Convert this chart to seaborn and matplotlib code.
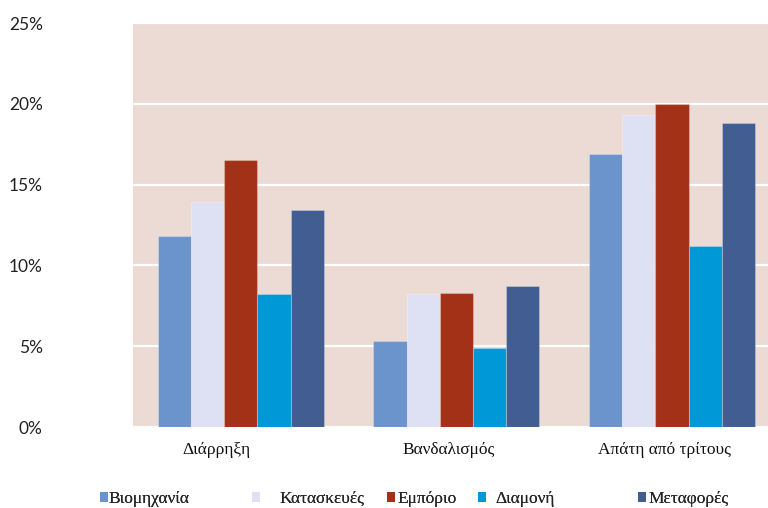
import matplotlib
matplotlib.use("Agg")
import matplotlib.pyplot as plt
import matplotlib.transforms as mtransforms
from matplotlib.patches import Patch
import seaborn as sns
import pandas as pd

categories = ["Διάρρηξη", "Βανδαλισμός", "Απάτη από τρίτους"]
sectors = ["Βιομηχανία", "Κατασκευές", "Εμπόριο", "Διαμονή", "Μεταφορές"]
industry = [11.8, 5.3, 16.9]
construction = [13.9, 8.2, 19.3]
commerce = [16.5, 8.3, 20.0]
accommodation = [8.2, 4.9, 11.2]
transport = [13.4, 8.7, 18.8]
yticks = [0, 5, 10, 15, 20, 25]

colors = ["#6B94CD", "#DDE1F3", "#A33118", "#0098D7", "#415D91"]

series = [industry, construction, commerce, accommodation, transport]
rows = []
for s, vals in zip(sectors, series):
    for c, v in zip(categories, vals):
        rows.append({"cat": c, "sector": s, "value": v / 100})
df = pd.DataFrame(rows)

sns.set_theme(style="white")
plt.rcParams["font.family"] = ["DejaVu Sans"]

W, H = 768, 508
fig = plt.figure(figsize=(W / 100, H / 100), dpi=100)
ax_left, ax_right, ax_top, ax_bot = 133, 779.75, 23, 427
ax = fig.add_axes([ax_left / W, 1 - ax_bot / H, (ax_right - ax_left) / W, (ax_bot - ax_top) / H])
ax.set_facecolor("#EBDBD4")

sns.barplot(data=df, x="cat", y="value", hue="sector", order=categories, hue_order=sectors,
            palette=colors, saturation=1, width=0.77, ax=ax, legend=False,
            edgecolor="none", linewidth=0)
for p in ax.patches:
    p.set_edgecolor((1, 1, 1, 0.25))
    p.set_linewidth(0.8)

ax.set_ylim(0, 0.25)
ax.set_xlim(-0.5, 2.5)
ax.set_yticks([t / 100 for t in yticks])
ax.set_yticklabels([f"{t}%" for t in yticks], fontfamily="Lato", fontsize=12.5, color="#222222")
ax.yaxis.grid(True, color="white", linewidth=1.6)
ax.set_axisbelow(True)
ax.tick_params(axis="y", length=0, pad=65)
ax.tick_params(axis="x", length=0, pad=10.5)
for lab in ax.get_xticklabels():
    lab.set_fontfamily("Liberation Serif")
    lab.set_fontsize(12.5)
    lab.set_color("#111111")
offsets = [-24, -8, -8]
for lab, dx in zip(ax.get_xticklabels(), offsets):
    lab.set_transform(lab.get_transform() + mtransforms.ScaledTranslation(dx / 100, 0, fig.dpi_scale_trans))
ax.set_xlabel("")
ax.set_ylabel("")
for sp in ax.spines.values():
    sp.set_visible(False)

# legend entries (individually placed)
fs = 12.5
em = fs * 100 / 72
marker_left = [100, 252, 387, 478, 638]
text_left = [107, 279, 397, 495, 648]
for s, c, ml, tl in zip(sectors, colors, marker_left, text_left):
    h = Patch(facecolor=c, edgecolor="none")
    leg = fig.legend(handles=[h], labels=[s], loc="center left",
                     bbox_to_anchor=(ml / W, 1 - 499 / H), frameon=False,
                     borderpad=0, borderaxespad=0, handlelength=8 / em, handleheight=8 / em,
                     handletextpad=max(tl - ml - 8, 0) / em,
                     prop={"family": "Liberation Serif", "size": fs})
    fig.add_artist(leg)

fig.savefig("out.png", dpi=100)
